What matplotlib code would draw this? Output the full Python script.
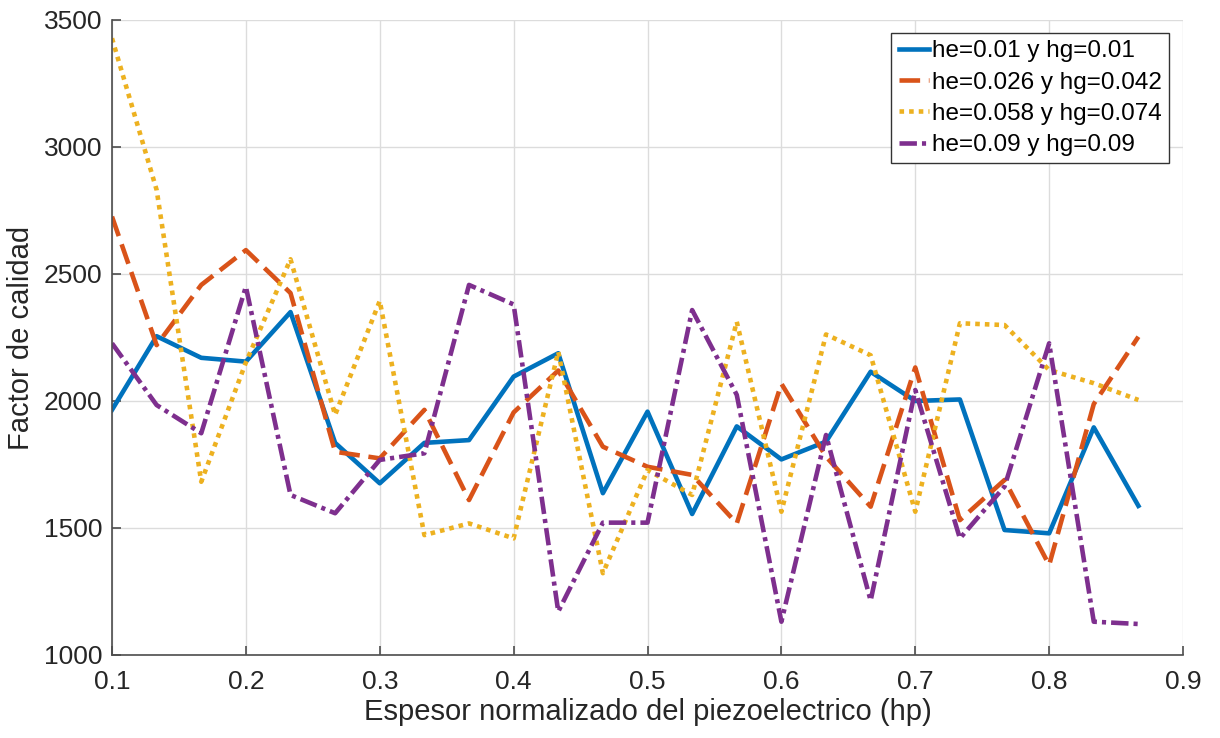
import numpy as np
import matplotlib
matplotlib.use("Agg")
import matplotlib.pyplot as plt

plt.rcParams["font.family"] = ["Liberation Sans", "DejaVu Sans"]

hp = np.arange(24) / 30 + 0.1

q_a = [1965, 2255, 2170, 2155, 2350, 1835, 1676, 1835, 1846, 2096, 2188, 1637,
       1958, 1555, 1900, 1770, 1840, 2115, 2000, 2006, 1492, 1479, 1896, 1587]
q_b = [2726, 2220, 2457, 2594, 2425, 1800, 1774, 1965, 1610, 1955, 2120, 1820,
       1741, 1709, 1518, 2068, 1781, 1584, 2132, 1531, 1689, 1354, 1988, 2253]
q_c = [3428, 2831, 1682, 2152, 2558, 1945, 2394, 1472, 1518, 1459, 2194, 1322,
       1728, 1630, 2312, 1564, 2262, 2180, 1564, 2306, 2299, 2122, 2070, 2004]
q_d = [2227, 1984, 1873, 2450, 1630, 1558, 1768, 1794, 2457, 2380, 1171, 1521,
       1521, 2358, 2024, 1131, 1866, 1214, 2043, 1459, 1663, 2227, 1131, 1122]

labels = ["he=0.01 y hg=0.01", "he=0.026 y hg=0.042",
          "he=0.058 y hg=0.074", "he=0.09 y hg=0.09"]

fig = plt.figure(figsize=(12.2, 7.38), dpi=100)
ax = fig.add_axes([0.0918, 0.1125, 0.8779, 0.8604])

lw = 3.3
ax.plot(hp, q_a, color="#0072BD", lw=lw, ls="-", label=labels[0])
ax.plot(hp, q_b, color="#D95319", lw=lw, ls=(0, (4.5, 1.9)), label=labels[1])
ax.plot(hp, q_c, color="#EDB120", lw=lw, ls=(0, (1.0, 1.1)), label=labels[2])
ax.plot(hp, q_d, color="#7E2F8E", lw=lw, ls=(0, (3.8, 1.1, 0.9, 1.1)), label=labels[3])

ax.set_xlim(0.1, 0.9)
ax.set_ylim(1000, 3500)
ax.set_xticks(np.arange(1, 10) / 10)
ax.set_yticks(range(1000, 3501, 500))
ax.set_xticklabels([f"{v/10:.1f}" for v in range(1, 10)])

ax.grid(True, color="#dcdcdc", lw=1)
ax.set_axisbelow(True)
for s in ("top", "right"):
    ax.spines[s].set_visible(False)
for s in ("left", "bottom"):
    ax.spines[s].set_color("#4d4d4d")
    ax.spines[s].set_linewidth(1.2)
ax.tick_params(direction="in", length=6.5, width=1.2, color="#4d4d4d",
               labelsize=19, labelcolor="#262626")
ax.tick_params(axis="x", pad=11)
ax.tick_params(axis="y", pad=7)

ax.set_xlabel("Espesor normalizado del piezoelectrico (hp)", fontsize=21,
              color="#262626", labelpad=3)
ax.set_ylabel("Factor de calidad", fontsize=21, color="#262626", labelpad=6)

leg = ax.legend(loc="upper right", bbox_to_anchor=(0.987, 0.9795), fontsize=17.5,
                handlelength=1.25, handletextpad=0.12, borderpad=0.3,
                labelspacing=0.38, fancybox=False, framealpha=1,
                borderaxespad=0)
leg.get_frame().set_edgecolor("#333333")
leg.get_frame().set_linewidth(1.0)

fig.savefig("out.png", dpi=100)
